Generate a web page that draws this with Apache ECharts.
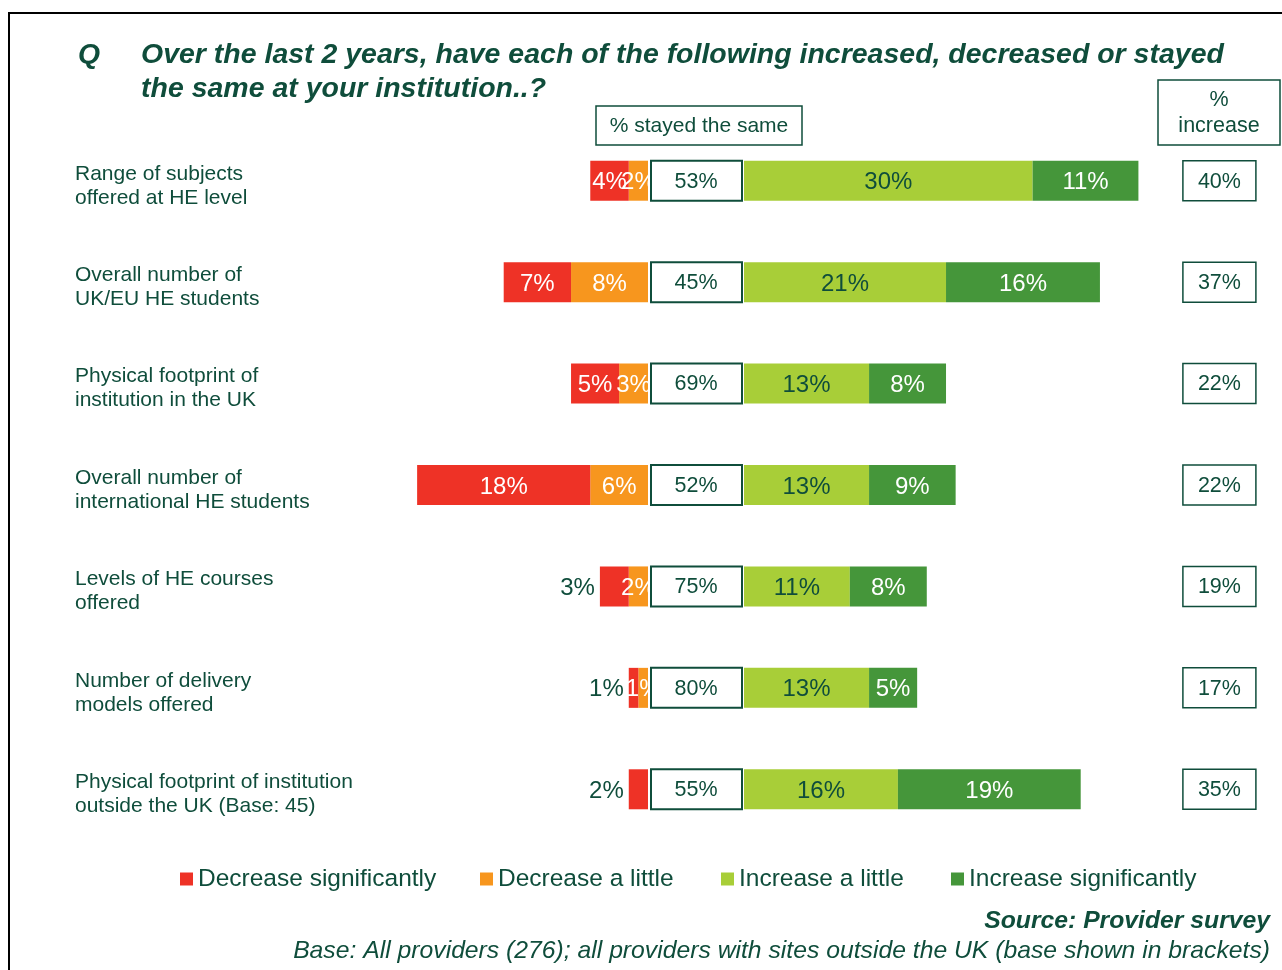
<!DOCTYPE html>
<html>
<head>
<meta charset="utf-8">
<script src="https://cdn.jsdelivr.net/npm/echarts@6/dist/echarts.min.js"></script>
<style>
  html, body { margin: 0; padding: 0; background: #ffffff; }
  #chart { width: 1282px; height: 970px; }
</style>
</head>
<body>
<div id="chart"></div>
<script>
// ---- Survey data ----
const categories = [
  'Range of subjects\noffered at HE level',
  'Overall number of\nUK/EU HE students',
  'Physical footprint of\ninstitution in the UK',
  'Overall number of\ninternational HE students',
  'Levels of HE courses\noffered',
  'Number of delivery\nmodels offered',
  'Physical footprint of institution\noutside the UK (Base: 45)'
];
const decreaseSignificantly = [4, 7, 5, 18, 3, 1, 2];
const decreaseLittle        = [2, 8, 3, 6, 2, 1, 0];
const stayedSame            = [53, 45, 69, 52, 75, 80, 55];
const increaseLittle        = [30, 21, 13, 13, 11, 13, 16];
const increaseSignificantly = [11, 16, 8, 9, 8, 5, 19];
const increaseTotal         = [40, 37, 22, 22, 19, 17, 35];
const seriesNames = ['Decrease significantly', 'Decrease a little', 'Increase a little', 'Increase significantly'];

// ---- Look & layout ----
const FONT = '"Liberation Sans", Arial, sans-serif';
const DARK = '#0F4D3B';
const COLORS = { decSig: '#EE3226', decLit: '#F7961E', incLit: '#A8CE38', incSig: '#45963A' };
const PX_PER_PCT = 9.62;
const ZERO_LEFT = 648, ZERO_RIGHT = 744;
const LEFT_MIN = -25, RIGHT_MAX = 45;
const GRID_TOP = 130, GRID_H = 710;
const BAR_W = 40;
const SEG_FONT = 24;
const BOX_FONT = 21.5;

const leftGridX = ZERO_LEFT + LEFT_MIN * PX_PER_PCT;
const pct = v => Math.abs(v) + '%';

const chart = echarts.init(document.getElementById('chart'), null, { renderer: 'canvas' });

function insideLabel(color) {
  return { show: true, position: 'inside', offset: [0, 2], color: color, fontFamily: FONT, fontSize: SEG_FONT,
           formatter: p => pct(p.value) };
}

// Red segments: small ones get their label outside to the left
const decSigData = decreaseSignificantly.map(v => ({
  value: -v,
  label: v <= 3
    ? { show: true, position: 'left', distance: 5, offset: [0, 2], color: DARK, fontFamily: FONT,
        fontSize: SEG_FONT, formatter: p => pct(p.value) }
    : insideLabel('#ffffff')
}));
const decLitData = decreaseLittle.map(v => ({
  value: -v,
  label: v > 0 ? insideLabel('#ffffff') : { show: false }
}));

// Box holding the "stayed the same" share, drawn in the middle strip
function renderStayed(params, api) {
  const cs = params.coordSys;
  const cy = api.coord([0, api.value(0)])[1];
  return {
    type: 'group',
    children: [{
      type: 'rect',
      shape: { x: cs.x + 3, y: cy - 20, width: cs.width - 5, height: 40 },
      style: { fill: '#ffffff', stroke: DARK, lineWidth: 2 }
    }, {
      type: 'text',
      style: { x: cs.x + cs.width / 2, y: cy + 1, text: api.value(1) + '%', fill: DARK,
               fontFamily: FONT, fontSize: BOX_FONT, align: 'center', verticalAlign: 'middle' }
    }]
  };
}

// Box holding the overall "% increase", to the right of the bars
function renderIncrease(params, api) {
  const cs = params.coordSys;
  const cy = api.coord([0, api.value(0)])[1];
  const x0 = cs.x + cs.width + 6;
  return {
    type: 'group',
    children: [{
      type: 'rect',
      shape: { x: x0, y: cy - 20, width: 73, height: 40 },
      style: { fill: '#ffffff', stroke: DARK, lineWidth: 1.5 }
    }, {
      type: 'text',
      style: { x: x0 + 36.5, y: cy + 1, text: api.value(1) + '%', fill: DARK,
               fontFamily: FONT, fontSize: BOX_FONT, align: 'center', verticalAlign: 'middle' }
    }]
  };
}

function legendAt(name, left) {
  return {
    data: [{ name: name, icon: 'rect' }],
    left: left, top: 866, padding: 0,
    itemWidth: 13, itemHeight: 13, itemGap: 0,
    textStyle: { fontFamily: FONT, fontSize: 24.5, lineHeight: 26, color: DARK, padding: [0, 0, 0, 0] },
    selectedMode: false
  };
}

const option = {
  animation: false,
  backgroundColor: '#ffffff',
  grid: [
    { left: leftGridX, width: -LEFT_MIN * PX_PER_PCT, top: GRID_TOP, height: GRID_H },
    { left: ZERO_LEFT, width: ZERO_RIGHT - ZERO_LEFT, top: GRID_TOP, height: GRID_H },
    { left: ZERO_RIGHT, width: RIGHT_MAX * PX_PER_PCT, top: GRID_TOP, height: GRID_H }
  ],
  xAxis: [
    { gridIndex: 0, type: 'value', min: LEFT_MIN, max: 0, show: false },
    { gridIndex: 1, type: 'value', min: 0, max: 1, show: false },
    { gridIndex: 2, type: 'value', min: 0, max: RIGHT_MAX, show: false }
  ],
  yAxis: [
    {
      gridIndex: 0, type: 'category', data: categories, inverse: true,
      axisLine: { show: false }, axisTick: { show: false }, splitLine: { show: false },
      axisLabel: {
        align: 'left', margin: leftGridX - 75, color: DARK,
        // a thin spacer line on top nudges the two-line label slightly below the bar centre
        formatter: v => '{pad| }\n' + v.split('\n').map(s => '{t|' + s + '}').join('\n'),
        rich: {
          pad: { fontSize: 4, lineHeight: 10 },
          t: { fontFamily: FONT, fontSize: 21, lineHeight: 24, color: DARK }
        }
      }
    },
    { gridIndex: 1, type: 'category', data: categories, inverse: true, show: false },
    { gridIndex: 2, type: 'category', data: categories, inverse: true, show: false }
  ],
  legend: [
    legendAt(seriesNames[0], 180),
    legendAt(seriesNames[1], 480),
    legendAt(seriesNames[2], 721),
    legendAt(seriesNames[3], 951)
  ],
  series: [
    {
      name: seriesNames[1], type: 'bar', xAxisIndex: 0, yAxisIndex: 0, stack: 'dec',
      barWidth: BAR_W, itemStyle: { color: COLORS.decLit }, data: decLitData
    },
    {
      name: seriesNames[0], type: 'bar', xAxisIndex: 0, yAxisIndex: 0, stack: 'dec',
      barWidth: BAR_W, itemStyle: { color: COLORS.decSig }, data: decSigData
    },
    {
      name: seriesNames[2], type: 'bar', xAxisIndex: 2, yAxisIndex: 2, stack: 'inc',
      barWidth: BAR_W, itemStyle: { color: COLORS.incLit },
      label: insideLabel(DARK), data: increaseLittle
    },
    {
      name: seriesNames[3], type: 'bar', xAxisIndex: 2, yAxisIndex: 2, stack: 'inc',
      barWidth: BAR_W, itemStyle: { color: COLORS.incSig },
      label: insideLabel('#ffffff'), data: increaseSignificantly
    },
    {
      name: 'Stayed the same', type: 'custom', xAxisIndex: 1, yAxisIndex: 1, z: 6,
      renderItem: renderStayed, encode: { y: 0 },
      data: stayedSame.map((v, i) => [i, v])
    },
    {
      name: '% increase', type: 'custom', xAxisIndex: 2, yAxisIndex: 2, z: 6,
      renderItem: renderIncrease, encode: { y: 0 },
      data: increaseTotal.map((v, i) => [i, v])
    }
  ],
  graphic: [
    { type: 'rect', shape: { x: 9, y: 13, width: 1300, height: 1000 },
      style: { fill: 'none', stroke: '#000000', lineWidth: 2 }, silent: true },
    { type: 'text', x: 78, y: 56, scaleX: 1.05,
      style: { text: 'Q', fill: DARK, fontFamily: FONT, fontSize: 27, fontWeight: 'bold', fontStyle: 'italic',
               verticalAlign: 'middle' } },
    { type: 'text', x: 141, y: 56, scaleX: 1.055,
      style: { text: 'Over the last 2 years, have each of the following increased, decreased or stayed',
               fill: DARK, fontFamily: FONT, fontSize: 27, fontWeight: 'bold', fontStyle: 'italic',
               verticalAlign: 'middle' } },
    { type: 'text', x: 141, y: 90, scaleX: 1.055,
      style: { text: 'the same at your institution..?',
               fill: DARK, fontFamily: FONT, fontSize: 27, fontWeight: 'bold', fontStyle: 'italic',
               verticalAlign: 'middle' } },
    { type: 'rect', shape: { x: 596, y: 106, width: 206, height: 39 },
      style: { fill: '#ffffff', stroke: DARK, lineWidth: 1.5 } },
    { type: 'text', x: 699, y: 126,
      style: { text: '% stayed the same', fill: DARK, fontFamily: FONT, fontSize: 21,
               align: 'center', verticalAlign: 'middle' } },
    { type: 'rect', shape: { x: 1158, y: 80, width: 122, height: 65 },
      style: { fill: '#ffffff', stroke: DARK, lineWidth: 1.5 } },
    { type: 'text', x: 1219, y: 113,
      style: { text: '%\nincrease', fill: DARK, fontFamily: FONT, fontSize: 21.5, lineHeight: 26,
               align: 'center', verticalAlign: 'middle' } },
    { type: 'text', x: 1270, y: 921, scaleX: 1.03,
      style: { text: 'Source: Provider survey', fill: DARK, fontFamily: FONT, fontSize: 24,
               fontWeight: 'bold', fontStyle: 'italic', align: 'right', verticalAlign: 'middle' } },
    { type: 'text', x: 1270, y: 951, scaleX: 1.03,
      style: { text: 'Base: All providers (276); all providers with sites outside the UK (base shown in brackets)',
               fill: DARK, fontFamily: FONT, fontSize: 24, fontStyle: 'italic',
               align: 'right', verticalAlign: 'middle' } }
  ]
};

chart.setOption(option);
</script>
</body>
</html>
